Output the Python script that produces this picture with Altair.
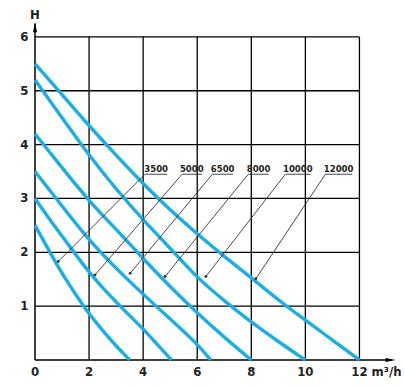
import altair as alt
import pandas as pd

# ---- data ----
series = ["3500", "5000", "6500", "8000", "10000", "12000"]
q_3500 = [0, 0.5, 1, 1.5, 2, 2.5, 3, 3.5]
h_3500 = [2.5, 2.05, 1.6, 1.22, 0.85, 0.55, 0.26, 0]
q_5000 = [0, 0.5, 1, 1.5, 2, 2.5, 3, 3.5, 4, 4.5, 5.05]
h_5000 = [3.0, 2.64, 2.3, 1.96, 1.63, 1.34, 1.08, 0.82, 0.58, 0.3, 0]
q_6500 = [0, 1, 2, 3, 4, 5, 6, 6.5]
h_6500 = [3.5, 2.86, 2.22, 1.7, 1.22, 0.76, 0.3, 0]
q_8000 = [0, 1, 2, 3, 4, 5, 6, 7, 8]
h_8000 = [4.2, 3.57, 2.95, 2.43, 1.88, 1.36, 0.87, 0.42, 0]
q_10000 = [0, 1, 2, 3, 4, 5, 6, 7, 8, 9, 10]
h_10000 = [5.2, 4.5, 3.8, 3.17, 2.6, 2.08, 1.52, 1.1, 0.7, 0.34, 0]
q_12000 = [0, 1, 2, 3, 4, 5, 6, 7, 8, 9, 10, 11, 12]
h_12000 = [5.5, 4.93, 4.35, 3.8, 3.27, 2.78, 2.34, 1.92, 1.53, 1.11, 0.74, 0.37, 0]

# label annotations (leader lines)
label_x = [4.48, 5.8, 6.94, 8.27, 9.72, 11.23]
leader_start_x = [4.07, 5.44, 6.56, 7.89, 9.26, 10.74]
underline_end_x = [4.89, 6.19, 7.33, 8.63, 10.19, 11.74]
dot_x = [0.86, 2.22, 3.52, 4.81, 6.32, 8.17]
dot_h = [1.83, 1.58, 1.61, 1.55, 1.55, 1.51]
underline_h = 3.45
label_h = 3.49

x_ticks = [0, 2, 4, 6, 8, 10, 12]
y_ticks = [1, 2, 3, 4, 5, 6]
x_tick_labels = ["0", "2", "4", "6", "8", "10", "12"]
y_tick_labels = ["1", "2", "3", "4", "5", "6"]
x_unit = "m³/h"
y_title = "H"

# ---- tables ----
curve_q = [q_3500, q_5000, q_6500, q_8000, q_10000, q_12000]
curve_h = [h_3500, h_5000, h_6500, h_8000, h_10000, h_12000]
rows = []
for s, qs, hs in zip(series, curve_q, curve_h):
    for i, (q, h) in enumerate(zip(qs, hs)):
        rows.append({"s": s, "q": q, "h": h, "o": i})
curves_df = pd.DataFrame(rows)

lead_rows = []
for i, s in enumerate(series):
    lead_rows.append({"s": s, "q": dot_x[i], "h": dot_h[i], "o": 0})
    lead_rows.append({"s": s, "q": leader_start_x[i], "h": underline_h, "o": 1})
    lead_rows.append({"s": s, "q": underline_end_x[i], "h": underline_h, "o": 2})
lead_df = pd.DataFrame(lead_rows)
dots_df = pd.DataFrame({"q": dot_x, "h": dot_h})
labels_df = pd.DataFrame({"s": series, "q": label_x, "h": [label_h] * len(series)})

vgrid = pd.DataFrame({"q": x_ticks[1:], "h0": 0, "h1": 6})
hgrid = pd.DataFrame({"h": y_ticks, "q0": 0, "q1": 12})

xs = alt.Scale(domain=[0, 13.5], nice=False, zero=False)
ys = alt.Scale(domain=[0, 6.5], nice=False, zero=False)
X = lambda f: alt.X(f, type="quantitative", scale=xs, axis=None)
Y = lambda f: alt.Y(f, type="quantitative", scale=ys, axis=None)

FONT = "Liberation Sans Narrow, DejaVu Sans Condensed, sans-serif"
INK = "#222222"

vlines = alt.Chart(vgrid).mark_rule(color="black", strokeWidth=1.3).encode(
    x=X("q"), y=Y("h0"), y2="h1")
hlines = alt.Chart(hgrid).mark_rule(color="black", strokeWidth=1.3).encode(
    y=Y("h"), x=X("q0"), x2="q1")

axes_df = pd.DataFrame({"q0": [0, 0], "q1": [13.2, 0], "h0": [0, 0], "h1": [0, 6.25]})
axes = alt.Chart(axes_df).mark_rule(color="black", strokeWidth=1.5).encode(
    x=X("q0"), x2="q1", y=Y("h0"), y2="h1")

yarrow = alt.Chart(pd.DataFrame({"q": [0], "h": [6.18]})).mark_point(
    shape="M0,-1L0.4,1L-0.4,1Z", filled=True, size=100, color="black", opacity=1
).encode(x=X("q"), y=Y("h"))
xarrow = alt.Chart(pd.DataFrame({"q": [13.15], "h": [0]})).mark_point(
    shape="M1,0L-1,-0.4L-1,0.4Z", filled=True, size=100, color="black", opacity=1
).encode(x=X("q"), y=Y("h"))

curves = alt.Chart(curves_df).mark_line(
    color="#1aaee6", strokeWidth=3.4, interpolate="basis"
).encode(x=X("q"), y=Y("h"), detail="s:N", order="o:Q")

leaders = alt.Chart(lead_df).mark_line(color="#333333", strokeWidth=0.9).encode(
    x=X("q"), y=Y("h"), detail="s:N", order="o:Q")
dots = alt.Chart(dots_df).mark_point(filled=True, size=8, color="#333333", opacity=1).encode(
    x=X("q"), y=Y("h"))
labels = alt.Chart(labels_df).mark_text(
    font=FONT, fontSize=9.5, fontWeight="bold", color=INK, baseline="alphabetic", align="center"
).encode(x=X("q"), y=Y("h"), text="s:N")

xt_df = pd.DataFrame({"q": x_ticks, "t": x_tick_labels, "h": [-0.215] * len(x_ticks)})
xtl = alt.Chart(xt_df).mark_text(
    font=FONT, fontSize=13, fontWeight="bold", color=INK, baseline="middle", align="center", dx=0
).encode(x=X("q"), y=Y("h"), text="t:N")
yt_df = pd.DataFrame({"h": y_ticks, "t": y_tick_labels, "q": [-0.24] * len(y_ticks)})
ytl = alt.Chart(yt_df).mark_text(
    font=FONT, fontSize=13, fontWeight="bold", color=INK, baseline="middle", align="right"
).encode(x=X("q"), y=Y("h"), text="t:N")
unit = alt.Chart(pd.DataFrame({"q": [12.45], "h": [-0.215], "t": [x_unit]})).mark_text(
    font=FONT, fontSize=13, fontWeight="bold", color=INK, baseline="middle", align="left"
).encode(x=X("q"), y=Y("h"), text="t:N")
htitle = alt.Chart(pd.DataFrame({"q": [0], "h": [6.41], "t": [y_title]})).mark_text(
    font=FONT, fontSize=13, fontWeight="bold", color=INK, baseline="middle", align="center"
).encode(x=X("q"), y=Y("h"), text="t:N")

chart = alt.layer(
    vlines, hlines, axes, yarrow, xarrow, curves, leaders, dots, labels, xtl, ytl, unit, htitle
).properties(
    width=365, height=350,
    padding={"left": 35, "top": 10, "right": 5, "bottom": 26},
    autosize=alt.AutoSizeParams(type="none"),
).configure_view(stroke=None)

chart.save("out.html", embed_options={"renderer": "svg", "actions": False})
